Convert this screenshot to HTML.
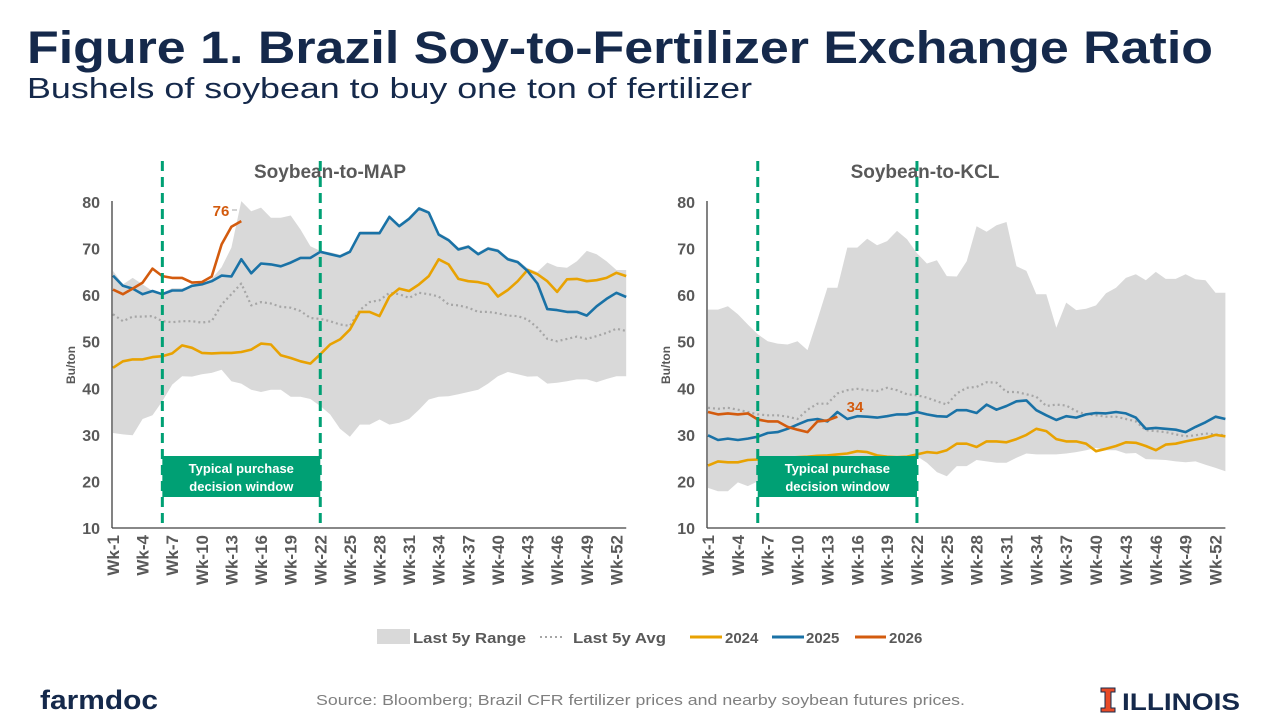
<!DOCTYPE html>
<html><head><meta charset="utf-8"><style>
html,body{margin:0;padding:0;background:#fff}
svg{display:block}
text{font-family:"Liberation Sans",sans-serif}
</style></head><body>
<svg id="s" width="1280" height="720" viewBox="0 0 1280 720" xmlns="http://www.w3.org/2000/svg">
<text x="27" y="63" font-size="45" font-weight="bold" fill="#15294b" textLength="1186" lengthAdjust="spacingAndGlyphs">Figure 1. Brazil Soy-to-Fertilizer Exchange Ratio</text>
<text x="27" y="98" font-size="29" fill="#15294b" textLength="725" lengthAdjust="spacingAndGlyphs">Bushels of soybean to buy one ton of fertilizer</text>
<text x="330" y="178" font-size="19" font-weight="bold" fill="#595959" text-anchor="middle">Soybean-to-MAP</text>
<text x="925" y="178" font-size="19" font-weight="bold" fill="#595959" text-anchor="middle">Soybean-to-KCL</text>
<g id="charts"></g>
<!-- legend -->
<rect x="377" y="629" width="33" height="15" fill="#d9d9d9"/>
<text x="413" y="643" font-size="15" font-weight="bold" fill="#595959" textLength="113" lengthAdjust="spacingAndGlyphs">Last 5y Range</text>
<line x1="540" y1="637" x2="565" y2="637" stroke="#a6a6a6" stroke-width="2" stroke-dasharray="2 3"/>
<text x="573" y="643" font-size="15" font-weight="bold" fill="#595959" textLength="93" lengthAdjust="spacingAndGlyphs">Last 5y Avg</text>
<line x1="690" y1="637" x2="722" y2="637" stroke="#e8a202" stroke-width="3"/>
<text x="725" y="643" font-size="15" font-weight="bold" fill="#595959">2024</text>
<line x1="772" y1="637" x2="804" y2="637" stroke="#1a72a6" stroke-width="3"/>
<text x="806" y="643" font-size="15" font-weight="bold" fill="#595959">2025</text>
<line x1="855" y1="637" x2="886" y2="637" stroke="#d35b0e" stroke-width="3"/>
<text x="889" y="643" font-size="15" font-weight="bold" fill="#595959">2026</text>
<!-- footer -->
<text x="40" y="709" font-size="27" font-weight="bold" fill="#15294b" textLength="118" lengthAdjust="spacingAndGlyphs">farmdoc</text>
<text x="316" y="705" font-size="15" fill="#7f7f7f" textLength="649" lengthAdjust="spacingAndGlyphs">Source: Bloomberg; Brazil CFR fertilizer prices and nearby soybean futures prices.</text>
<path d="M1101 688h14v4h-4v16h4v4h-14v-4h4v-16h-4z" fill="#e84a27" stroke="#15294b" stroke-width="1"/>
<text x="1122" y="710" font-size="24" font-weight="bold" fill="#15294b" textLength="118" lengthAdjust="spacingAndGlyphs">ILLINOIS</text>
</svg>
<script>
const L={
blue:[64.2,62,61.4,60.2,60.9,60.2,61,61,62,62.3,63,64.2,64,67.7,64.7,66.8,66.6,66.2,67,68,68,69.3,68.8,68.3,69.3,73.3,73.3,73.3,76.8,74.8,76.4,78.6,77.7,73,71.8,69.8,70.4,68.8,70,69.5,67.7,67.1,65.2,62.5,57,56.8,56.4,56.4,55.6,57.6,59.2,60.5,59.6],
orange:[44.4,45.8,46.2,46.2,46.7,46.9,47.5,49.2,48.7,47.6,47.5,47.6,47.6,47.8,48.3,49.6,49.4,47.1,46.5,45.8,45.3,47.3,49.4,50.5,52.6,56.4,56.4,55.5,59.7,61.4,60.9,62.3,64.1,67.7,66.6,63.5,63,62.8,62.3,59.7,61.1,63,65.4,64.5,63,60.7,63.4,63.5,63,63.2,63.7,64.8,64.1],
red:[61.2,60.2,61.4,62.7,65.7,64.1,63.7,63.7,62.7,62.8,64,70.9,74.7,75.9],
avg:[55.9,54.4,55.4,55.4,55.5,54.4,54.2,54.4,54.4,54.1,54.4,58,60.2,62.5,57.8,58.5,58.2,57.5,57.3,56.6,55.1,54.9,54.4,53.7,53.4,56.8,58.5,58.9,60.5,60.2,59.4,60.5,60.2,59.7,58,57.8,57.3,56.4,56.4,56.1,55.6,55.5,54.8,53,50.6,50.1,50.6,51.1,50.6,51.2,51.9,52.8,52.3],
lo:[30.4,30.1,29.9,33.4,34.2,37.2,40.8,42.6,42.5,43,43.3,44,41.5,41,39.7,39.2,39.7,39.7,38.2,38.2,37.7,36.2,34.4,31.3,29.6,32.2,32.2,33.3,32.2,32.6,33.4,35.4,37.6,38.2,38.3,38.7,39.2,39.7,41,42.6,43.5,43,42.5,42.6,41,41.2,41.5,41.9,41.9,41.3,42,42.6,42.6],
hi:[65.2,62.3,63.7,62.3,60.9,60.5,61.5,61.5,62,62.5,63.5,66,70.2,80.2,78,78.8,76.6,76.6,77.1,74.1,70.5,69.5,null,null,null,null,null,null,null,null,null,null,null,null,null,null,null,null,null,null,null,null,null,65,67,66.1,65.9,67.3,69.5,68.8,67.3,65.4,65.4]
};
for(let i=22;i<43;i++){L.hi[i]=Math.max(L.blue[i],L.orange[i])+0.4;}
const R={
blue:[29.9,28.9,29.2,28.9,29.2,29.6,30.4,30.6,31.3,32.2,33.1,33.4,32.9,34.9,33.4,34,33.9,33.7,34,34.4,34.4,34.9,34.4,34,33.9,35.3,35.3,34.7,36.5,35.4,36.2,37.2,37.4,35.3,34.2,33.2,34,33.7,34.4,34.7,34.6,34.9,34.6,33.7,31.3,31.5,31.3,31.1,30.6,31.7,32.7,33.9,33.4],
orange:[23.4,24.3,24.1,24.1,24.6,24.7,25,25,25.1,25.2,25.3,25.5,25.6,25.8,26,26.5,26.3,25.6,25.3,25.2,25.3,25.8,26.3,26.1,26.7,28.1,28.1,27.4,28.6,28.6,28.4,29.1,30,31.3,30.8,29.1,28.6,28.6,28.1,26.5,27,27.6,28.4,28.3,27.6,26.7,27.9,28.1,28.6,29,29.4,30,29.7],
red:[34.9,34.4,34.6,34.4,34.6,33.3,32.9,32.9,31.7,31.1,30.6,32.9,33.1,33.9],
avg:[35.8,35.6,35.8,35.4,34.9,34.4,34.2,34.2,33.9,33.4,35.4,36.7,36.7,38.9,39.6,39.9,39.6,39.4,40.1,39.6,38.7,38.5,38,37.2,36.5,38.9,40.1,40.3,41.3,41.2,39.2,39.2,38.7,38.2,36.2,36.5,36.3,35.1,34.4,34.2,33.9,33.9,33.4,32.9,31,30.8,30.6,30.1,29.7,29.9,30.3,30.1,29.9],
hi:[56.9,56.9,57.6,55.9,53.7,51.6,50.1,49.6,49.4,50.1,48.2,54.8,61.6,61.6,70.2,70.2,72.1,70.7,71.6,73.8,72,69,66.8,67.5,64.1,64,67.3,74.8,73.6,75,75.7,66.2,65.2,60.2,60.2,53,58.4,56.8,57.1,57.8,60.4,61.6,63.7,64.5,63.2,65,63.5,63.5,64.5,63.4,63.2,60.5,60.5],
lo:[18.6,17.9,17.9,19.8,19,20,23,23.5,24,24,24,24,24,24,24,24,24,24,24,24,24.5,25.4,24,22,21.1,23.3,23.3,24.6,24.3,24,24,25.1,26,25.8,25.8,25.8,26,26.3,26.7,27.2,26.7,26.7,26,26.1,24.8,24.7,24.6,24.3,24.1,24.3,23.6,22.9,22.2]
};
const NS="http://www.w3.org/2000/svg";
const g=document.getElementById("charts");
function el(t,a,txt){const e=document.createElementNS(NS,t);for(const k in a)e.setAttribute(k,a[k]);if(txt!==undefined)e.textContent=txt;g.appendChild(e);return e;}
const Y=v=>528-(v-10)*4.657;
function chart(D,x0,dx,ax,val,lx,ly){
  const X=w=>x0+(w-1)*dx;
  let p="";D.hi.forEach((v,i)=>p+=(i?"L":"M")+X(i+1).toFixed(1)+" "+Y(v).toFixed(1));
  for(let i=D.lo.length-1;i>=0;i--)p+="L"+X(i+1).toFixed(1)+" "+Y(D.lo[i]).toFixed(1);
  el("path",{d:p+"Z",fill:"#d9d9d9"});
  const line=(a,c,w,da)=>{let q="";a.forEach((v,i)=>q+=(i?"L":"M")+X(i+1).toFixed(1)+" "+Y(v).toFixed(1));const o={d:q,fill:"none",stroke:c,"stroke-width":w,"stroke-linejoin":"round"};if(da)o["stroke-dasharray"]=da;el("path",o);};
  line(D.avg,"#a6a6a6",2.2,"2 3");
  line(D.orange,"#e8a202",2.6);
  line(D.blue,"#1a72a6",2.6);
  line(D.red,"#d35b0e",2.6);
  el("line",{x1:ax,y1:201,x2:ax,y2:528,stroke:"#404040","stroke-width":1.3});
  el("line",{x1:ax,y1:528,x2:X(53),y2:528,stroke:"#404040","stroke-width":1.3});
  for(let v=10;v<=80;v+=10) el("text",{x:ax-12,y:Y(v)+6,"font-size":16,"font-weight":"bold",fill:"#595959","text-anchor":"end"},String(v));
  for(let w=1;w<=52;w+=3){const x=X(w)+6;el("text",{x:x,y:535,"font-size":17,"font-weight":"bold",fill:"#595959","text-anchor":"end",transform:`rotate(-90 ${x} 535)`},"Wk-"+w);}
  el("text",{x:ax-37,y:365,"font-size":12,"font-weight":"bold",fill:"#595959","text-anchor":"middle",transform:`rotate(-90 ${ax-37} 365)`},"Bu/ton");
  const a=X(6),b=X(22);
  el("rect",{x:a,y:456,width:b-a,height:41,fill:"#00a074"});
  el("text",{x:(a+b)/2,y:473,"font-size":13,"font-weight":"bold",fill:"#fff","text-anchor":"middle"},"Typical purchase");
  el("text",{x:(a+b)/2,y:491,"font-size":13,"font-weight":"bold",fill:"#fff","text-anchor":"middle"},"decision window");
  [a,b].forEach(x=>el("line",{x1:x,y1:161,x2:x,y2:528,stroke:"#00a074","stroke-width":3,"stroke-dasharray":"10 6"}));
  el("text",{x:lx,y:ly,"font-size":15,"font-weight":"bold",fill:"#d35b0e","text-anchor":"middle"},val);
}
chart(L,113,9.87,112,"76",221,216);
el("line",{x1:232,y1:210,x2:237,y2:210,stroke:"#a6a6a6","stroke-width":1});
chart(R,708,9.95,707,"34",855,412);
</script>
</body></html>
